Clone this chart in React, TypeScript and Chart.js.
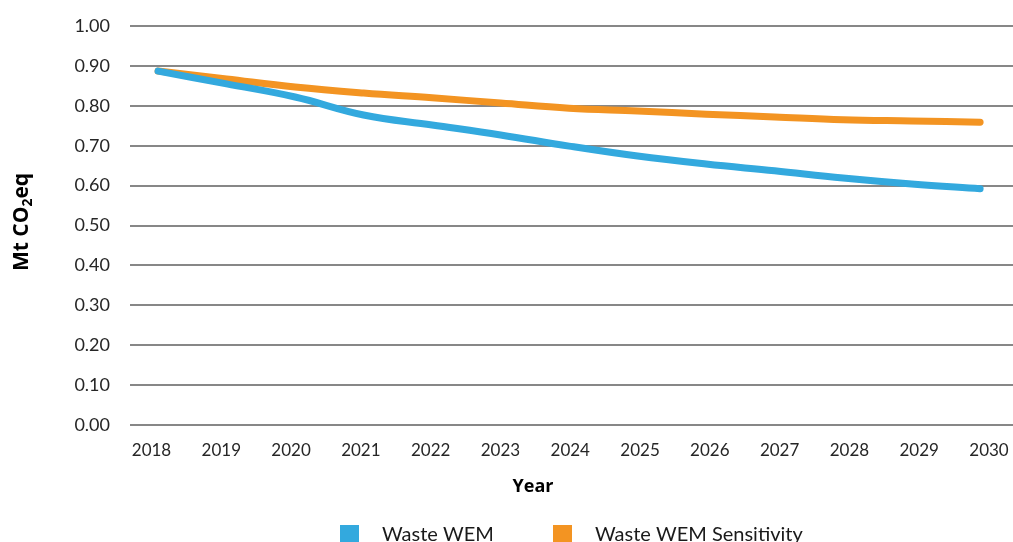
import { useEffect, useRef } from "react";
import { Chart, registerables } from "chart.js";

Chart.register(...registerables);

const years = [2018, 2019, 2020, 2021, 2022, 2023, 2024, 2025, 2026, 2027, 2028, 2029, 2030];
const yearLabels = years.map(String);
const wasteWEM = [0.887, 0.855, 0.822, 0.777, 0.752, 0.727, 0.699, 0.674, 0.654, 0.637, 0.619, 0.604, 0.592];
const wasteWEMSensitivity = [0.887, 0.867, 0.847, 0.832, 0.82, 0.807, 0.794, 0.787, 0.779, 0.772, 0.765, 0.762, 0.759];
const yTicks = [0, 0.1, 0.2, 0.3, 0.4, 0.5, 0.6, 0.7, 0.8, 0.9, 1.0];
const seriesNames = ["Waste WEM", "Waste WEM Sensitivity"];
const seriesColors = ["#33A9DE", "#F39422"];
const xTitle = "Year";
const yTitleParts = ["Mt CO", "2", "eq"];

const FONT = "Lato";
const BOLD_FONT = "'Open Sans'";

const overlayPlugin = {
  id: "overlay",
  afterDraw(chart: any) {
    const ctx = chart.ctx;
    ctx.save();
    // Y axis title with subscript
    ctx.translate(28, 222);
    ctx.rotate(-Math.PI / 2);
    ctx.fillStyle = "#000";
    ctx.textBaseline = "alphabetic";
    ctx.textAlign = "left";
    const bigFont = `bold 21px ${BOLD_FONT}`;
    const subFont = `bold 14px ${BOLD_FONT}`;
    ctx.font = bigFont;
    const w1 = ctx.measureText(yTitleParts[0]).width;
    const w3 = ctx.measureText(yTitleParts[2]).width;
    ctx.font = subFont;
    const w2 = ctx.measureText(yTitleParts[1]).width;
    const total = w1 + w2 + w3;
    let x = -total / 2;
    ctx.font = bigFont;
    ctx.fillText(yTitleParts[0], x, 0);
    x += w1;
    ctx.font = subFont;
    ctx.fillText(yTitleParts[1], x, 4);
    x += w2;
    ctx.font = bigFont;
    ctx.fillText(yTitleParts[2], x, 0);
    ctx.restore();

    // X axis title
    ctx.save();
    ctx.font = `bold 18px ${BOLD_FONT}`;
    ctx.fillStyle = "#000";
    ctx.textAlign = "center";
    ctx.textBaseline = "middle";
    ctx.fillText(xTitle, 533, 487);
    ctx.restore();

    // Legend
    ctx.save();
    const boxX = [340, 553];
    const textX = [382, 595];
    ctx.font = `20px ${FONT}`;
    ctx.textBaseline = "alphabetic";
    ctx.textAlign = "left";
    seriesNames.forEach((name, i) => {
      ctx.fillStyle = seriesColors[i];
      ctx.fillRect(boxX[i], 525, 19, 19);
      ctx.fillStyle = "#1a1a1a";
      ctx.fillText(name, textX[i], 541);
    });
    ctx.restore();
  },
};

export default function App() {
  const canvasRef = useRef<HTMLCanvasElement | null>(null);

  useEffect(() => {
    const canvas = canvasRef.current;
    if (!canvas) return;
    const seriesValues = [wasteWEM, wasteWEMSensitivity];
    const chart = new Chart(canvas, {
      type: "line",
      data: {
        datasets: seriesNames.map((name, i) => ({
          label: name,
          data: years.map((yr, j) => ({ x: yr, y: seriesValues[i][j] })),
          borderColor: seriesColors[i],
          backgroundColor: seriesColors[i],
          borderWidth: 7,
          borderCapStyle: "round",
          borderJoinStyle: "round",
          pointRadius: 0,
          pointHoverRadius: 0,
          tension: 0.4,
          xAxisID: "x",
          yAxisID: "y",
        })),
      },
      options: {
        animation: false,
        responsive: false,
        maintainAspectRatio: false,
        layout: { padding: { top: 26, left: 0, right: 0, bottom: 0 } },
        plugins: {
          legend: { display: false },
          tooltip: { enabled: false },
        },
        scales: {
          x: {
            type: "linear",
            display: false,
            min: 2017.59,
            max: 2030.48,
          },
          xl: {
            type: "linear",
            position: "bottom",
            min: 2017.692,
            max: 2030.344,
            grid: { display: false },
            border: { display: false },
            afterBuildTicks: (scale: any) => {
              scale.ticks = years.map((v) => ({ value: v }));
            },
            afterFit: (scale: any) => {
              scale.height = 127;
              scale.paddingLeft = 0;
              scale.paddingRight = 0;
            },
            ticks: {
              autoSkip: false,
              maxRotation: 0,
              padding: 7,
              color: "#262626",
              font: { family: FONT, size: 17 },
              callback: (_v: any, idx: number) => yearLabels[idx],
            },
          },
          y: {
            type: "linear",
            min: 0,
            max: 1,
            afterBuildTicks: (scale: any) => {
              scale.ticks = yTicks.map((v) => ({ value: v }));
            },
            afterFit: (scale: any) => {
              scale.width = 130;
              scale.paddingTop = 0;
              scale.paddingBottom = 0;
            },
            border: { display: false },
            grid: {
              color: "#878787",
              lineWidth: 2,
              drawTicks: false,
            },
            ticks: {
              padding: 20,
              color: "#262626",
              font: { family: FONT, size: 18 },
              callback: (v: any) => Number(v).toFixed(2),
            },
          },
        },
      },
      plugins: [overlayPlugin],
    });
    return () => chart.destroy();
  }, []);

  return (
    <div style={{ position: "fixed", left: 0, top: 0, width: 1013, height: 552 }}>
      <canvas ref={canvasRef} width={1013} height={552} style={{ width: 1013, height: 552, display: "block" }} />
    </div>
  );
}
